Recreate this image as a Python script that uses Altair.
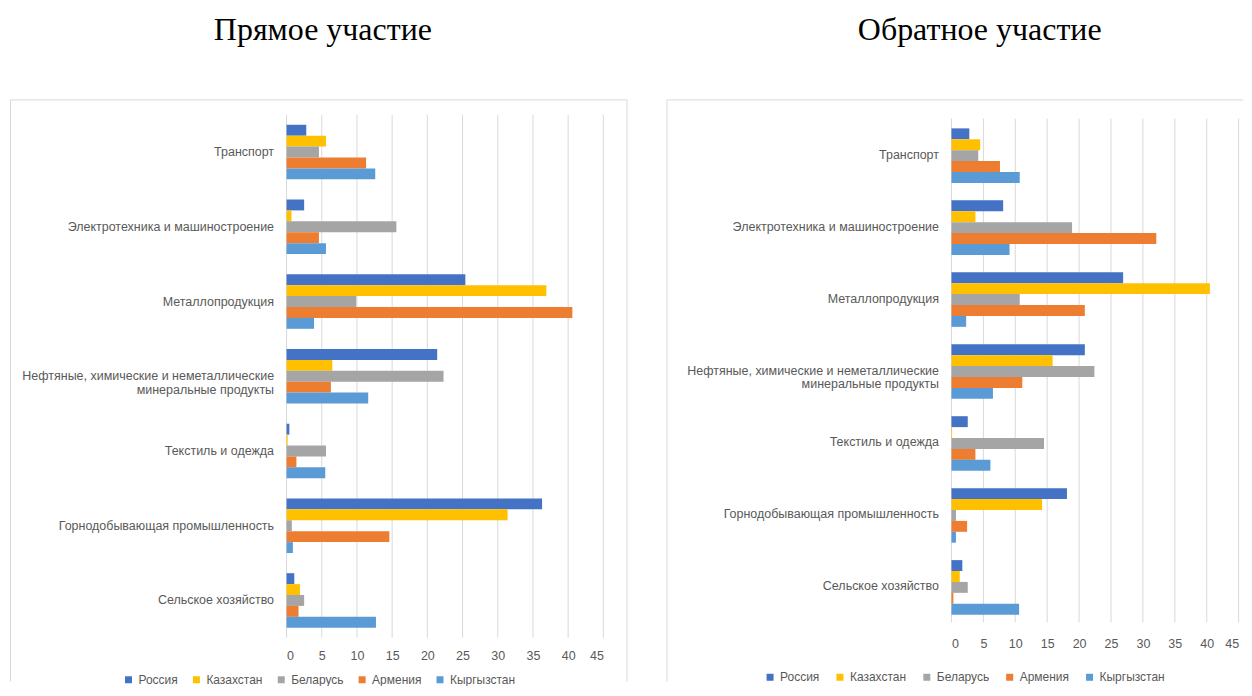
import altair as alt
import pandas as pd

SECTORS = [
    "Транспорт",
    "Электротехника и машиностроение",
    "Металлопродукция",
    "Нефтяные, химические и неметаллические минеральные продукты",
    "Текстиль и одежда",
    "Горнодобывающая промышленность",
    "Сельское хозяйство",
]
COUNTRIES = ["Россия", "Казахстан", "Беларусь", "Армения", "Кыргызстан"]
COLORS = ["#4472C4", "#FFC000", "#A5A5A5", "#ED7D31", "#5B9BD5"]
X_TICKS = [0, 5, 10, 15, 20, 25, 30, 35, 40, 45]

# Прямое участие (values in the order of SECTORS)
DIRECT_RUSSIA = [2.8, 2.5, 25.4, 21.4, 0.4, 36.3, 1.1]
DIRECT_KAZAKHSTAN = [5.6, 0.7, 36.9, 6.5, 0.15, 31.4, 1.9]
DIRECT_BELARUS = [4.6, 15.6, 9.9, 22.3, 5.6, 0.75, 2.5]
DIRECT_ARMENIA = [11.3, 4.6, 40.6, 6.3, 1.4, 14.6, 1.7]
DIRECT_KYRGYZSTAN = [12.6, 5.6, 3.9, 11.6, 5.5, 0.9, 12.7]

# Обратное участие
BACKWARD_RUSSIA = [2.8, 8.1, 26.9, 20.9, 2.55, 18.1, 1.7]
BACKWARD_KAZAKHSTAN = [4.5, 3.75, 40.5, 15.85, 0.1, 14.2, 1.3]
BACKWARD_BELARUS = [4.2, 18.9, 10.7, 22.4, 14.5, 0.7, 2.55]
BACKWARD_ARMENIA = [7.6, 32.1, 20.9, 11.1, 3.75, 2.45, 0.3]
BACKWARD_KYRGYZSTAN = [10.7, 9.1, 2.3, 6.5, 6.1, 0.7, 10.6]

FONT = "Liberation Sans"
TEXT_GRAY = "#595959"
GRID = "#d9d9d9"
NBSP = "\u00a0"

LONG = SECTORS[3]
LABEL_EXPR = (
    "datum.value == '" + LONG + "' ? ['Нефтяные, химические и неметаллические', "
    "'минеральные продукты" + NBSP * 16 + "'] : datum.label"
)


def long_df(series):
    rows = []
    for country, vals in zip(COUNTRIES, series):
        for sector, v in zip(SECTORS, vals):
            rows.append({"sector": sector, "country": country, "value": v})
    return pd.DataFrame(rows)


def build(series, title, w, h, top, title_x, title_y, frame, legend_xy, legend_pad,
          xpad, right_edge):
    df = long_df(series)
    xscale = alt.Scale(domain=[0, 45], nice=False)

    def xaxis():
        return alt.Axis(
            values=X_TICKS, title=None, grid=False,
            domain=False, ticks=False, labelPadding=xpad,
            labelColor=TEXT_GRAY, labelFontSize=12.5, labelFont=FONT,
        )

    grid = alt.Chart(pd.DataFrame({"value": X_TICKS})).mark_rule(
        color=GRID, strokeWidth=1
    ).encode(
        x=alt.X("value:Q", scale=xscale, axis=xaxis()),
        y=alt.value(top), y2=alt.value(h),
    )
    bars = alt.Chart(df).mark_bar().encode(
        x=alt.X("value:Q", scale=xscale, axis=xaxis()),
        y=alt.Y(
            "sector:N", sort=SECTORS,
            scale=alt.Scale(paddingInner=0.27, paddingOuter=0.135, range=[top, h]),
            axis=alt.Axis(
                title=None, ticks=False, domain=False, labelPadding=13,
                labelExpr=LABEL_EXPR, labelLineHeight=14, labelLimit=0,
                labelColor=TEXT_GRAY, labelFontSize=12.5, labelFont=FONT,
            ),
        ),
        yOffset=alt.YOffset("country:N", sort=COUNTRIES),
        color=alt.Color(
            "country:N", sort=COUNTRIES,
            scale=alt.Scale(domain=COUNTRIES, range=COLORS),
            legend=alt.Legend(
                title=None, orient="none", legendX=legend_xy[0], legendY=legend_xy[1],
                direction="horizontal", symbolType="square", symbolSize=49,
                symbolStrokeWidth=0, labelFontSize=12, labelColor=TEXT_GRAY,
                labelFont=FONT, columnPadding=legend_pad, labelOffset=4, padding=0,
            ),
        ),
    )
    one = alt.Data(values=[{}])
    fl, ft, fr, fb = frame
    layers = [
        alt.Chart(one).mark_rule(color=GRID, strokeWidth=1).encode(
            x=alt.value(fl), y=alt.value(ft), y2=alt.value(fb)),
        alt.Chart(one).mark_rule(color=GRID, strokeWidth=1).encode(
            x=alt.value(fl), x2=alt.value(fr), y=alt.value(ft)),
    ]
    if right_edge:
        layers.append(
            alt.Chart(one).mark_rule(color=GRID, strokeWidth=1).encode(
                x=alt.value(fr), y=alt.value(ft), y2=alt.value(fb)))
    title_mark = alt.Chart(one).mark_text(
        text=title, font="Liberation Serif", fontSize=32, color="#000000",
        align="center", baseline="alphabetic",
    ).encode(x=alt.value(title_x), y=alt.value(title_y))
    return alt.layer(*layers, grid, bars, title_mark).properties(width=w, height=h)


left = build(
    [DIRECT_RUSSIA, DIRECT_KAZAKHSTAN, DIRECT_BELARUS, DIRECT_ARMENIA, DIRECT_KYRGYZSTAN],
    "Прямое участие", 317.3, 524, 0, 36.4, -75,
    (-276.5, -14.8, 341, 567.7), (-164.3, 560), 12, 12, True,
)
right = build(
    [BACKWARD_RUSSIA, BACKWARD_KAZAKHSTAN, BACKWARD_BELARUS, BACKWARD_ARMENIA, BACKWARD_KYRGYZSTAN],
    "Обратное участие", 287.6, 508.5, 4, 28.3, -75,
    (-285, -14.8, 292.3, 567.7), (-187.7, 557.5), 14, 15, False,
)

chart = alt.hconcat(left, right, spacing=38).resolve_scale(
    color="independent", x="independent", y="independent"
).properties(
    padding={"left": 2, "top": 5.3, "right": 0, "bottom": 0},
    background="white",
).configure_view(stroke=None)

chart.save("out.html", embed_options={"renderer": "svg", "actions": False})
